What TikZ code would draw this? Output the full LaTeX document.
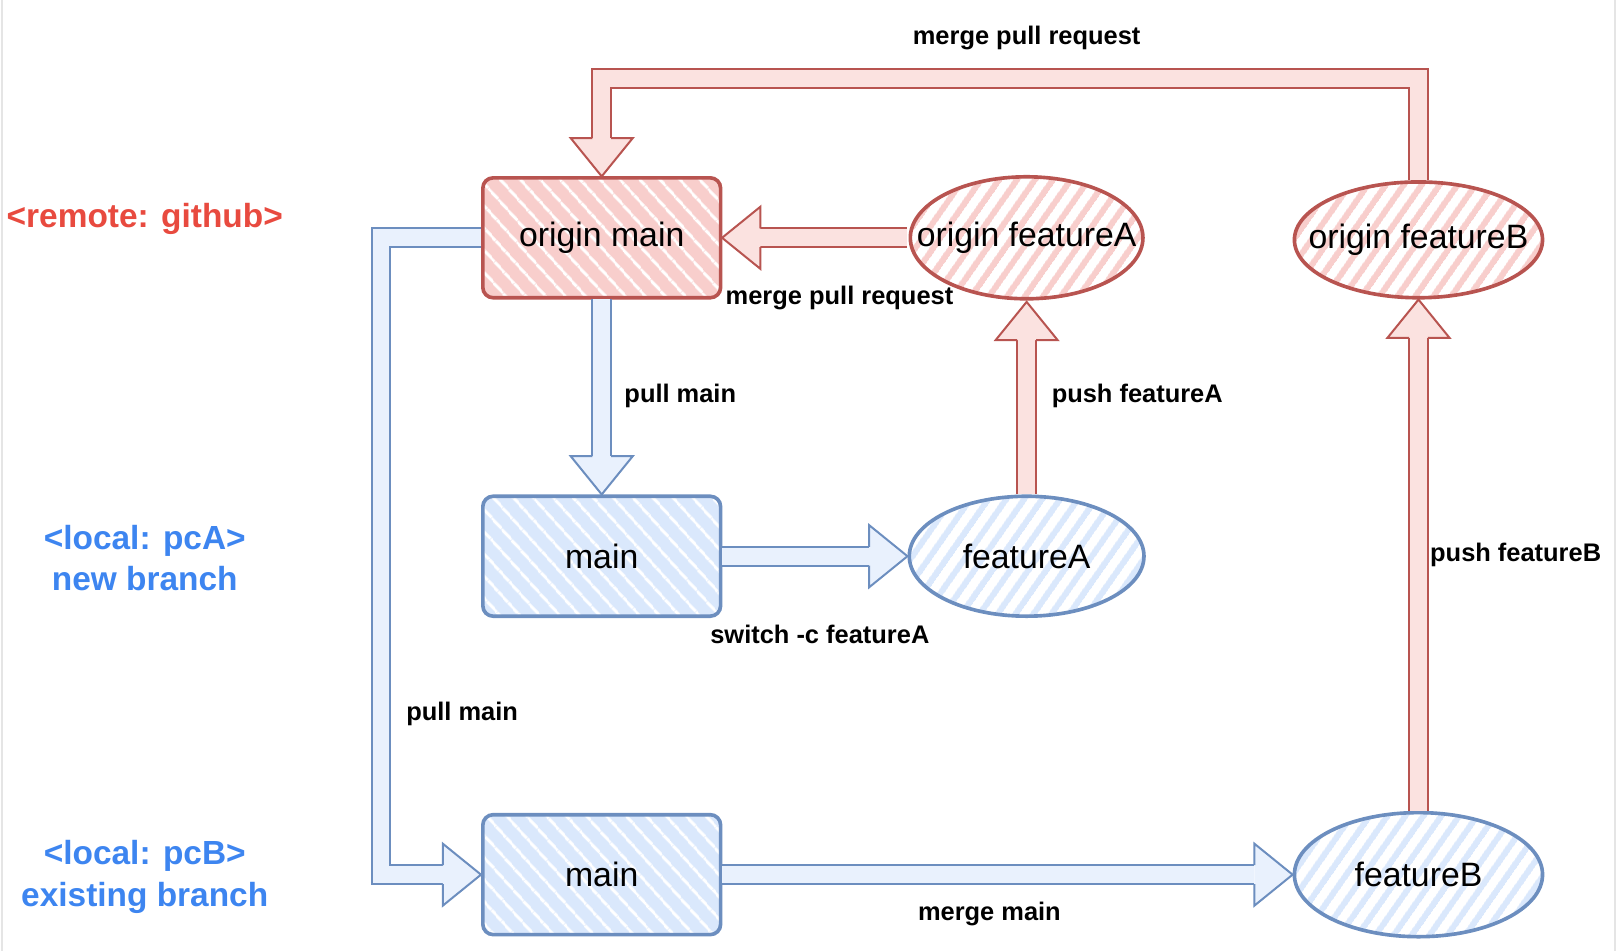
\documentclass[tikz,border=0pt]{standalone}
\usepackage{fontspec}
\setmainfont{Liberation Sans}
\usepackage{tikz}
\usetikzlibrary{shapes.geometric}
\usetikzlibrary{calc,positioning}
\usetikzlibrary{patterns.meta}
\definecolor{redge}{HTML}{B85450}
\definecolor{rfill}{HTML}{F8CECC}
\definecolor{bedge}{HTML}{6C8EBF}
\definecolor{bfill}{HTML}{DAE8FC}
\definecolor{rtext}{HTML}{E84A3F}
\definecolor{btext}{HTML}{3D85F0}
\newcommand\nw[1]{\makebox[0pt]{#1}}
\newcommand\arrowhead[3]{%
  \filldraw[#1] ($(#2)!2.6pt!90:(#3)$) -- ($(#2)!0.3cm!90:(#3)$) -- (#3)
    -- ($(#2)!0.3cm!-90:(#3)$) -- ($(#2)!2.6pt!-90:(#3)$);}
\newcommand\bigarrow[3]{%
  \coordinate (ab) at ($(#3)!0.37cm!(#2)$);
  \draw[#1 shaft] (#2) -- (ab);
  \arrowhead{#1 head}{ab}{#3}}

\begin{document}
\begin{tikzpicture}[line width=1pt,
  red shaft/.style={draw=redge, line width=0.55pt, double=rfill!60!white, double distance=4.6pt},
  blue shaft/.style={draw=bedge, line width=0.55pt, double=bfill!60!white, double distance=4.6pt},
  red head/.style={draw=redge, line width=0.55pt, fill=rfill!60!white},
  blue head/.style={draw=bedge, line width=0.55pt, fill=bfill!60!white},
  lbl/.style={font=\fontsize{7}{8}\selectfont\bfseries},
  side/.style={font=\fontsize{9.2}{11.4}\selectfont\bfseries, align=center}]
\useasboundingbox (0,0) rectangle (15.65,9.20);
\draw[gray!20, line width=0.5pt] (0.02,0) -- (0.02,9.20); %%
\draw[gray!20, line width=0.5pt] (15.62,0) -- (15.62,9.20); %%
\begin{scope}[font=\fontsize{9.3}{11}\selectfont]
\tikzstyle{every node}=[draw, minimum width=2.30cm, minimum height=1.16cm] %%
\tikzstyle{rbox}=[draw=redge, rounded corners=0.1cm, preaction={fill=rfill},
  pattern={Lines[angle=-48,distance=4pt,line width=0.8pt]}, pattern color=white]
\tikzstyle{bbox}=[draw=bedge, rounded corners=0.1cm, preaction={fill=bfill},
  pattern={Lines[angle=-48,distance=4pt,line width=0.8pt]}, pattern color=white]
\tikzstyle{rell}=[ellipse, inner sep=0pt, draw=redge, preaction={fill=white},
  pattern={Lines[angle=55,distance=4pt,line width=1.7pt]}, pattern color=rfill]
\tikzstyle{bell}=[ellipse, inner sep=0pt, draw=bedge, preaction={fill=white},
  pattern={Lines[angle=55,distance=4pt,line width=1.7pt]}, pattern color=bfill]
\node[rbox] (om) at (5.82,6.90) {origin main}; %%
\node[bbox] (pa) at (5.82,3.82) {main}; %%
\node[bbox] (pb) at (5.82,0.74) {main}; %%
\node[rell, minimum width=2.25cm, minimum height=1.18cm] (ofa) at (9.93,6.90) {\nw{origin featureA}}; %%
\node[bell, minimum width=2.27cm] (fa) at (9.93,3.82) {\nw{featureA}}; %%
\node[rell, minimum width=2.40cm, minimum height=1.12cm] (ofb) at (13.72,6.88) {\nw{origin featureB}}; %%
\node[bell, minimum width=2.40cm, minimum height=1.20cm] (fb) at (13.72,0.74) {\nw{featureB}};
\end{scope}
%% straight arrows
\bigarrow{red}{ofa.west}{om.east} %%
\bigarrow{blue}{om.south}{pa.north} %%
\bigarrow{red}{fa.north}{ofa.south} %%
\bigarrow{blue}{pa.east}{fa.west} %%
\bigarrow{red}{fb.north}{ofb.south} %%
\bigarrow{blue}{pb.east}{fb.west} %%
%% bent arrows
\coordinate (tb) at ($(om.north)+(0,0.37)$); %%
\draw[red shaft] (ofb.north) |- ($(om.north)+(0,0.95)$) -- (tb); %%
\arrowhead{red head}{tb}{om.north} %%
\coordinate (lb) at ($(pb.west)+(-0.37,0)$); %%
\draw[blue shaft] (om.west) -- ++(-0.97,0) |- (lb); %%
\arrowhead{blue head}{lb}{pb.west} %%
%% labels
\node[lbl] (l1) at (9.93,8.83) {merge pull request}; %%
\node[lbl] (l2) at (8.12,6.32) {merge pull request}; %%
\node[lbl] (l3) at (6.58,5.37) {pull main}; %%
\node[lbl] (l4) at (11.00,5.37) {push featureA}; %%
\node[lbl] (l5) at (7.93,3.06) {switch -c featureA}; %%
\node[lbl] (l6) at (4.47,2.29) {pull main}; %%
\node[lbl] (l7) at (14.66,3.83) {push featureB}; %%
\node[lbl] (l8) at (9.57,0.36) {merge main}; %%
\node[side, text=rtext] (sr) at (1.40,7.08) {<remote: github>}; %%
\node[side, text=btext] (sa) at (1.40,3.80) {<local: pcA>\\new branch}; %%
\node[side, text=btext] (sb) at (1.40,0.72) {<local: pcB>\\existing branch};
\end{tikzpicture}
\end{document}
